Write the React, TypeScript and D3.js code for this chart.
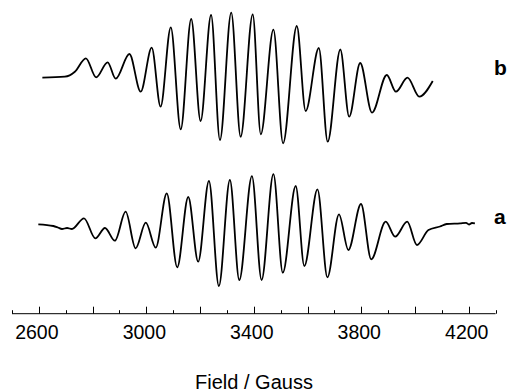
import React from "react";
import * as d3 from "d3";

// Field values (Gauss) and signal (arbitrary units, relative to each trace baseline)
const fieldB = [2613, 2697, 2734, 2775, 2813, 2856, 2886, 2937, 2979, 3020, 3053, 3091, 3128, 3167, 3202, 3241, 3274, 3316, 3351, 3396, 3426, 3473, 3509, 3560, 3593, 3642, 3675, 3722, 3755, 3796, 3840, 3895, 3929, 3972, 4016, 4066];
const signalB = [0, 1, 6, 19.4, 0.4, 15.4, -1, 23.7, -14, 30, -29, 50.4, -51.6, 58.7, -43.3, 62.7, -62.3, 65, -59, 63.4, -56.6, 48, -65.6, 51.7, -33.3, 29.7, -64, 28.2, -39, 14.7, -35, 2.7, -14, 0, -19, -3.3];

const fieldA = [2598, 2654, 2671, 2686, 2705, 2723, 2768, 2810, 2846, 2883, 2923, 2960, 2998, 3035, 3076, 3115, 3156, 3193, 3233, 3270, 3311, 3346, 3393, 3429, 3473, 3508, 3556, 3588, 3637, 3674, 3717, 3752, 3799, 3837, 3891, 3926, 3971, 4007, 4050, 4093, 4118, 4168, 4190, 4201, 4212, 4223];
const signalA = [0.7, -1, -2.5, -4, -3, -4, 6.7, -13.3, -3, -15.7, 13.3, -23.3, 2.3, -22.7, 31.7, -42.3, 28, -36.7, 44, -61, 45, -55, 48.8, -55, 50.8, -47.7, 39, -41, 35.7, -52.3, 10.7, -25, 21, -34.3, 3.3, -11.7, 3.3, -20, -5, -1.5, 1, 1.7, 2.2, 0.5, 2, 1.7];

const traceNames = ["a", "b"];
const traceOffsets = [0, 147.3];

const tickValues = [2500, 2600, 2700, 2800, 2900, 3000, 3100, 3200, 3300, 3400, 3500, 3600, 3700, 3800, 3900, 4000, 4100, 4200, 4300];
const labelValues = [2600, 3000, 3400, 3800, 4200];
const xTitle = "Field / Gauss";

export default function App() {
  const W = 508, H = 392;
  const x = d3.scaleLinear().domain([2500, 4300]).range([12, 495.6]);
  const y = d3.scaleLinear().domain([-100, 225]).range([325, 0]);
  const axisY = 313.7;

  const traces = [
    { name: traceNames[0], f: fieldA, s: signalA, off: traceOffsets[0] },
    { name: traceNames[1], f: fieldB, s: signalB, off: traceOffsets[1] },
  ];

  const line = d3
    .line<[number, number]>()
    .x((d) => x(d[0]))
    .y((d) => y(d[1]))
    .curve(d3.curveMonotoneX);

  const font = "'Liberation Sans', Arial, Helvetica, sans-serif";

  return (
    <svg width={W} height={H} style={{ position: "absolute", left: 0, top: 0, background: "#fff" }}>
      {traces.map((t, i) => {
        const pts = t.f.map((f, k) => [f, t.s[k] + t.off] as [number, number]);
        return (
          <g key={i}>
            <path d={line(pts) || ""} fill="none" stroke="#000" strokeWidth={1.8} strokeLinejoin="round" />
            <text
              x={494}
              y={y(t.off) + (i === 0 ? -1 : -3)}
              fontFamily={font}
              fontWeight="bold"
              fontSize={21}
              fill="#000"
            >
              {t.name}
            </text>
          </g>
        );
      })}
      <line x1={x(2500)} x2={x(4300)} y1={axisY} y2={axisY} stroke="#000" strokeWidth={1} />
      {tickValues.map((v) => {
        const major = (v - 2600) % 200 === 0;
        return (
          <line
            key={v}
            x1={Math.round(x(v)) + 0.5}
            x2={Math.round(x(v)) + 0.5}
            y1={axisY}
            y2={axisY - (major ? 7 : 3.5)}
            stroke="#000"
            strokeWidth={1}
          />
        );
      })}
      {labelValues.map((v) => (
        <text key={v} x={x(v) - 2} y={339} textAnchor="middle" fontFamily={font} fontSize={19.5} fill="#000">
          {v}
        </text>
      ))}
      <text x={254} y={388.5} textAnchor="middle" fontFamily={font} fontSize={20} fill="#000">
        {xTitle}
      </text>
    </svg>
  );
}
